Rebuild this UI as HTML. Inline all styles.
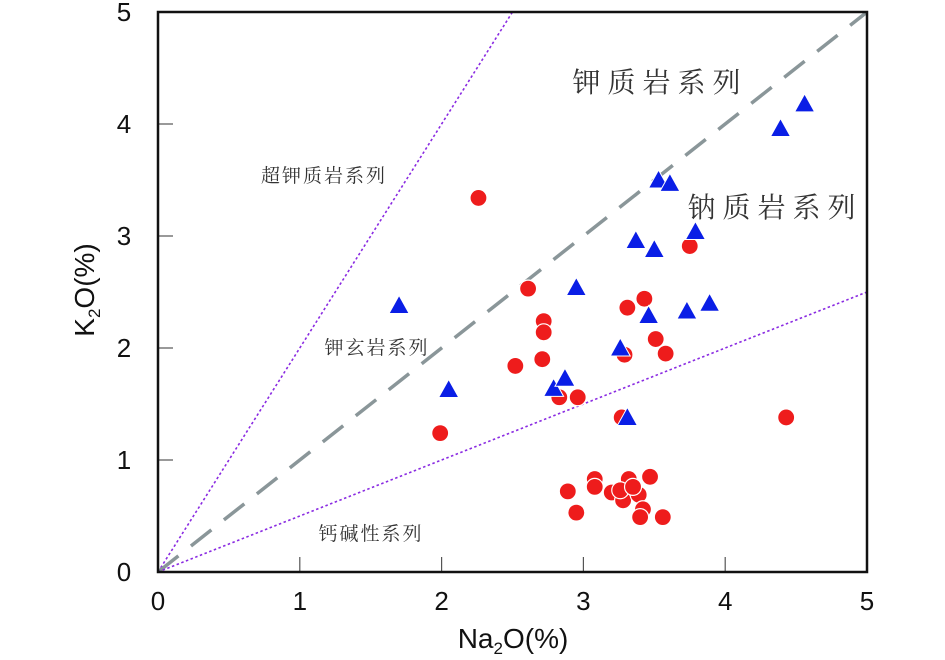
<!DOCTYPE html>
<html><head><meta charset="utf-8"><style>
html,body{margin:0;padding:0;background:#fff;}
svg{display:block;}
text{font-family:"Liberation Sans","Noto Sans CJK SC",sans-serif;}
text.cjk{font-family:"Liberation Serif","Noto Serif CJK SC",serif;}
</style></head><body>
<svg id="chart" width="945" height="660" xmlns="http://www.w3.org/2000/svg"></svg>
<script>
const xTicks=[0,1,2,3,4,5];
const yTicks=[0,1,2,3,4,5];
const circleNa=[2.26,2.61,2.72,2.72,2.71,2.52,1.99,3.31,3.43,3.51,3.58,3.29,2.83,2.96,3.27,3.75,4.43,2.89,3.08,3.08,2.95,3.20,3.32,3.47,3.28,3.39,3.42,3.40,3.56,3.26,3.35];
const circleK=[3.34,2.53,2.24,2.14,1.90,1.84,1.24,2.36,2.44,2.08,1.95,1.94,1.56,1.56,1.38,2.91,1.38,0.72,0.83,0.76,0.53,0.71,0.83,0.85,0.64,0.69,0.56,0.49,0.49,0.73,0.76];
const triNa=[1.70,2.05,2.95,3.37,3.50,3.26,3.31,2.79,2.87,3.46,3.73,3.89,3.53,3.61,3.79,4.39,4.56];
const triK=[2.38,1.63,2.54,2.96,2.88,2.00,1.38,1.64,1.73,2.29,2.33,2.40,3.50,3.47,3.04,3.96,4.18];
const lineSlopes=[2,1,0.5];

const NS="http://www.w3.org/2000/svg";
const svg=document.getElementById('chart');
const X0=158,X1=867,Y0=572,Y1=12;
const sx=v=>X0+(X1-X0)*v/5;
const sy=v=>Y0-(Y0-Y1)*v/5;
function mk(tag,attrs,parent){const e=document.createElementNS(NS,tag);for(const k in attrs)e.setAttribute(k,attrs[k]);(parent||svg).appendChild(e);return e;}

const defs=mk('defs',{});
const cp=mk('clipPath',{id:'clip'},defs);
mk('rect',{x:X0,y:Y1,width:X1-X0,height:Y0-Y1},cp);

xTicks.forEach(t=>{
  const l=mk('line',{x1:sx(t),x2:sx(t),y1:Y0,y2:Y0-15,stroke:'#555','stroke-width':1.2});
  
  
  const tx=mk('text',{x:sx(t),y:610,'font-size':26,'text-anchor':'middle',fill:'#111'});
  tx.textContent=t;
  
  
});
yTicks.forEach(t=>{
  const l=mk('line',{x1:X0,x2:X0+15,y1:sy(t),y2:sy(t),stroke:'#555','stroke-width':1.2});
  
  
  const tx=mk('text',{x:124,y:sy(t)+9,'font-size':26,'text-anchor':'middle',fill:'#111'});
  tx.textContent=t;
  
  
});

const g=mk('g',{'clip-path':'url(#clip)'});
lineSlopes.forEach((s,i)=>{
  const xe=Math.min(5,5/s);
  const attrs={x1:sx(0),y1:sy(0),x2:sx(xe),y2:sy(xe*s)};
  if(s===1){attrs.stroke='#8a9699';attrs['stroke-width']=3.5;attrs['stroke-dasharray']='26,16';}
  else{attrs.stroke='#8a2be2';attrs['stroke-width']=1.6;attrs['stroke-dasharray']='2.5,2.5';}
  const l=mk('line',attrs,g);
  
  
});

const fr=mk('rect',{x:X0,y:Y1,width:X1-X0,height:Y0-Y1,fill:'none',stroke:'#111','stroke-width':2.5});



const labels=[['钾质岩系列',660,92,28,7],['钠质岩系列',775,217,28,7],['超钾质岩系列',324,182,19,2],['钾玄岩系列',377,354,19,2],['钙碱性系列',371,540,19,2]];
const lnames=['potassic-series-label','sodic-series-label','ultrapotassic-series-label','shoshonite-series-label','calc-alkaline-series-label'];
labels.forEach((L,i)=>{
  const t=mk('text',{x:L[1],y:L[2],'font-size':L[3],'text-anchor':'middle',fill:'#333','letter-spacing':L[4],'class':'cjk'});
  t.textContent=L[0];
  
  
});

circleNa.forEach((v,i)=>{
  const c=mk('circle',{cx:sx(v),cy:sy(circleK[i]),r:8.5,fill:'#ee1c1c',stroke:'#fff','stroke-width':1.2});
  
  
});
triNa.forEach((v,i)=>{
  const x=sx(v),y=sy(triK[i]);
  const p=mk('polygon',{points:`${x},${y-10} ${x+10},${y+8} ${x-10},${y+8}`,fill:'#0a1ee6',stroke:'#fff','stroke-width':1});
  
  
});

const xt=mk('text',{x:513,y:648,'font-size':28,'text-anchor':'middle',fill:'#111'});
xt.innerHTML='Na<tspan font-size="17" dy="6">2</tspan><tspan dy="-6">O(%)</tspan>';


const yt=mk('text',{x:0,y:0,'font-size':28,'text-anchor':'middle',fill:'#111',transform:'translate(94,290) rotate(-90)'});
yt.innerHTML='K<tspan font-size="17" dy="6">2</tspan><tspan dy="-6">O(%)</tspan>';


</script>
</body></html>
